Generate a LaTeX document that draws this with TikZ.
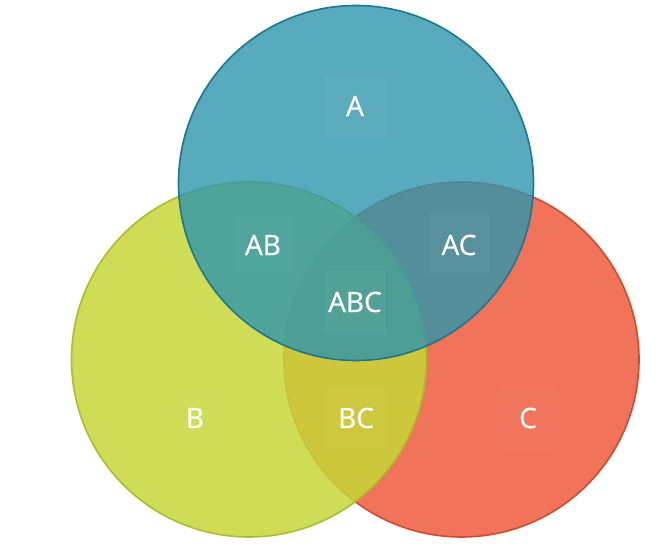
\documentclass[tikz,border=0pt]{standalone}
\usepackage{fontspec}
\setmainfont{Open Sans}[AutoFakeBold=0.6]
\definecolor{cA}{RGB}{46,149,172}
\definecolor{cAd}{RGB}{30,118,145}
\definecolor{cB}{RGB}{199,214,55}
\definecolor{cBd}{RGB}{166,184,40}
\definecolor{cC}{RGB}{241,115,90}
\definecolor{cCd}{RGB}{208,74,48}
\begin{document}
\begin{tikzpicture}[x=1pt,y=1pt,
  lbl/.style={text=white,font=\fontsize{28}{30}\selectfont\bfseries,fill=white,fill opacity=0.025,text opacity=1,minimum width=60,minimum height=62,inner sep=2pt}]
\useasboundingbox (0,0) rectangle (670,555);
\node[circle,minimum size=355,fill=cC,draw=cCd,line width=1.6pt] (C) at (461.5,195.5) {};
\node[circle,minimum size=355,fill=cB,fill opacity=0.85,draw=cBd,line width=1.6pt,draw opacity=0.9] (B) at (249,195.5) {};
\node[circle,minimum size=355,fill=cA,fill opacity=0.8,draw=cAd,line width=1.6pt] (A) at (356,372) {};
\node[lbl] (lA) at (355,449) {A};
\node[lbl] (lAB) at (263,310) {AB};
\node[lbl] (lAC) at (459,310) {AC};
\node[lbl] (lABC) at (355,253) {ABC};
\node[lbl] (lB) at (195,137) {B};
\node[lbl] (lBC) at (356,137) {BC};
\node[lbl] (lC) at (528,137) {C};
\end{tikzpicture}
\end{document}
